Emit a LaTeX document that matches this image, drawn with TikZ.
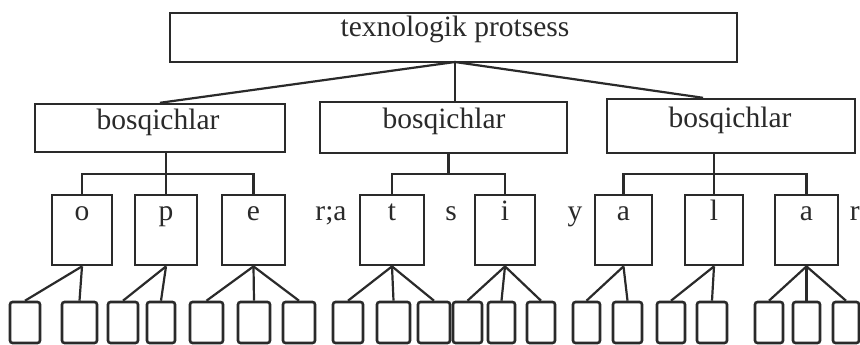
\documentclass[tikz,border=0pt]{standalone}
\usepackage{fontspec}
\setmainfont{Liberation Serif}
\usetikzlibrary{calc}
\definecolor{ink}{HTML}{2a2a2a}
\begin{document}
\begin{tikzpicture}[x=1pt,y=-1pt,
  box/.style={draw=ink,line width=2.4pt,inner sep=0pt},
  lbox/.style={box,line width=2.8pt,minimum height=70pt},
  sbox/.style={box,line width=2.6pt,minimum height=41pt,rounded corners=2.5pt},
  txt/.style={text=ink,font=\fontsize{29.5}{34}\selectfont,text height=20pt,text depth=3.4pt,inner sep=0pt},
  conn/.style={draw=ink,line width=2.2pt}]
\useasboundingbox[fill=white] (0,0) rectangle (860,345);
% top
\node[box,minimum width=567pt,minimum height=49pt] (top) at (453.5,37.5) {};
\node[txt] (ttop) at (455,28.5) {texnologik protsess};
% stages
\node[box,minimum width=250pt,minimum height=48pt] (b1) at (160,128) {};
\node[box,minimum width=247pt,minimum height=51pt] (b2) at (443.5,127.5) {};
\node[box,minimum width=248pt,minimum height=54pt] (b3) at (731,126) {};
\node[txt] (tb1) at (158,121) {bosqichlar};
\node[txt] (tb2) at (444,120) {bosqichlar};
\node[txt] (tb3) at (730,119) {bosqichlar};
% letter boxes
\foreach \n/\x/\w/\c in {o/82/60/o, p/166/62/p, e/253.5/63/e, t/392/64/t, i/505/60/i, a1/623.5/57/a, l/714/58/l, a2/806.5/63/a}{
  \node[lbox,minimum width=\w pt] (\n) at (\x,230) {};
  \node[txt] (txt\n) at (\x,212) {\c};
}
\node[txt] (gra) at (331,212) {r;a};
\node[txt] (gs) at (451,212) {s};
\node[txt] (gy) at (575,212) {y};
\node[txt,anchor=east] (gr) at (860,212) {r};
% small boxes
\foreach \k/\x/\w in {1/25/30, 2/79.5/35, 3/123/30, 4/161/28, 5/206.5/33, 6/254/32, 7/299/32, 8/348/30, 9/393.5/33, 10/434/32, 11/467.5/29, 12/501.5/27, 13/541/28, 14/586.5/27, 15/627.5/29, 16/671/28, 17/712/30, 18/769/28, 19/806.5/27, 20/846/26}{
  \node[sbox,minimum width=\w pt] (s\k) at (\x,322.5) {};
}
% top connectors
\coordinate (J) at (455,62);
\draw[conn] (J) -- (b1.north);
\draw[conn] (J) -- (J |- b2.north);
\draw[conn] (J) -- ([xshift=-28pt]b3.north);
% buses
\draw[conn] (b1.south -| p.north) -- (p.north);
\draw[conn] (o.north) -- ++(0,-20) -| (e.north);
\coordinate (m2) at ($(t.north)!.5!(i.north)$);
\draw[conn] (b2.south -| m2) -- ([yshift=20pt]m2);
\draw[conn] (t.north) -- ++(0,-20) -| (i.north);
\draw[conn] (b3.south -| l.north) -- (l.north);
\draw[conn] (a1.north) -- ++(0,-20) -| (a2.north);
% leaves
\foreach \p/\list in {o/{1,2}, p/{3,4}, e/{5,6,7}, t/{8,9,10}, i/{11,12,13}, a1/{14,15}, l/{16,17}, a2/{18,19,20}}{
  \foreach \k in \list { \draw[conn] (\p.south) -- (s\k.north); }
}
\end{tikzpicture}
\end{document}
